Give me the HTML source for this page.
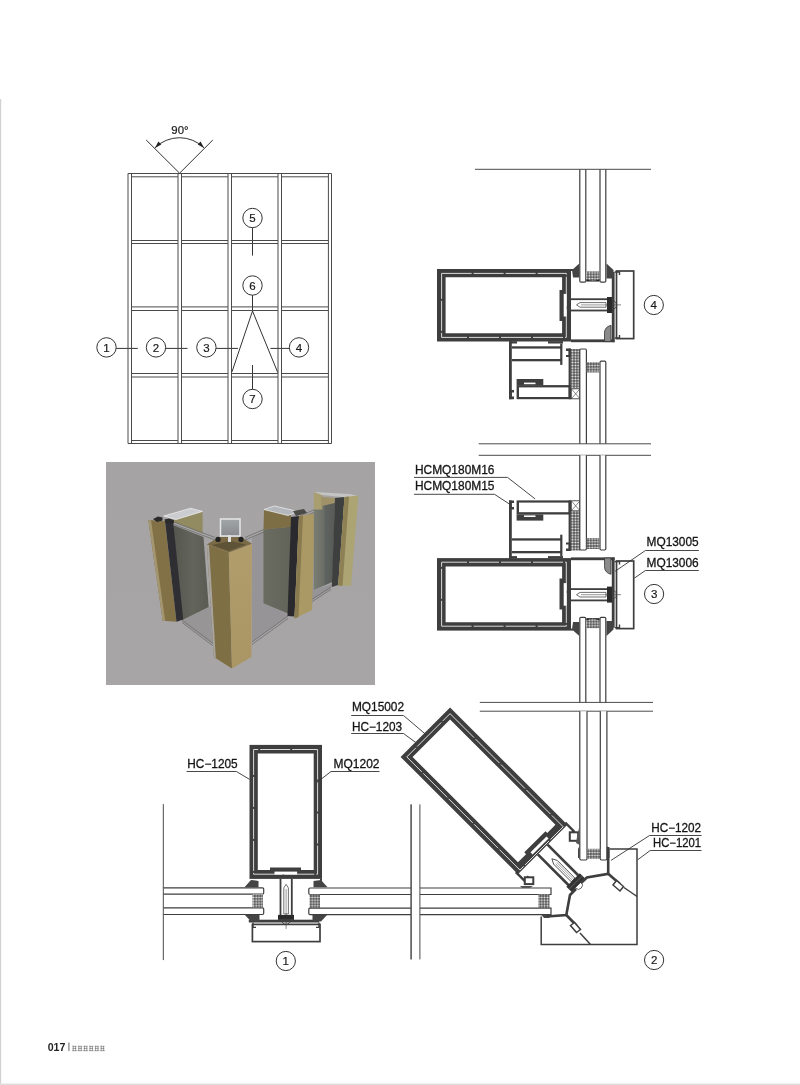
<!DOCTYPE html>
<html><head><meta charset="utf-8">
<style>
html,body{margin:0;padding:0;background:#fff;}
body{width:800px;height:1085px;overflow:hidden;position:relative;font-family:"Liberation Sans",sans-serif;}
svg{position:absolute;left:0;top:0;}
text{filter:grayscale(1);}
</style></head><body>
<svg width="800" height="1085" viewBox="0 0 800 1085" font-family="Liberation Sans, sans-serif">
<!-- page borders -->
<rect x="0" y="99" width="1.2" height="986" fill="#d2d2d2"/>
<rect x="0" y="1083.5" width="800" height="1.5" fill="#dedede"/>
<!-- angle -->
<g stroke="#333" stroke-width="1" fill="none">
<line x1="146.2" y1="140" x2="179.6" y2="173.2"/>
<line x1="212.8" y1="140" x2="179.6" y2="173.2"/>
<path d="M154.9 147.9 A34.8 34.8 0 0 1 204.1 147.9"/>
</g>
<polygon points="154.9,147.9 161.3,144.4 158.4,141.5" fill="#222"/>
<polygon points="204.1,147.9 200.6,141.5 197.7,144.4" fill="#222"/>
<text x="171.3" y="133.7" font-size="11.4" fill="#1a1a1a" stroke="#1a1a1a" stroke-width="0.2">90°</text>
<!-- callouts grid -->
<g stroke="#333" stroke-width="1" fill="#fff">
<circle cx="106.5" cy="347.4" r="9.7"/>
<circle cx="156" cy="347.4" r="9.7"/>
<circle cx="206.4" cy="347.4" r="9.7"/>
<circle cx="299" cy="347.4" r="9.7"/>
<circle cx="252.5" cy="218" r="9.7"/>
<circle cx="252.5" cy="285.5" r="9.7"/>
<circle cx="252.5" cy="399" r="9.7"/>
</g>
<g stroke="#333" stroke-width="1" fill="none">
<line x1="116.2" y1="348.4" x2="137.8" y2="348.4"/>
<line x1="165.8" y1="348.4" x2="187.5" y2="348.4"/>
<line x1="216.1" y1="348.4" x2="238" y2="348.4"/>
<line x1="270.4" y1="348.4" x2="289.3" y2="348.4"/>
<line x1="252.5" y1="227.7" x2="252.5" y2="255.6"/>
<line x1="252.5" y1="295.2" x2="252.5" y2="311.5"/>
<line x1="252.5" y1="365" x2="252.5" y2="389.3"/>
<path d="M232 371.8 L252.5 311 L277.8 372.6"/>
</g>
<g font-size="11.5" fill="#1a1a1a" stroke="#1a1a1a" stroke-width="0.2" text-anchor="middle">
<text x="106.5" y="351.6">1</text>
<text x="156" y="351.6">2</text>
<text x="206.4" y="351.6">3</text>
<text x="299" y="351.6">4</text>
<text x="252.5" y="222.2">5</text>
<text x="252.5" y="289.7">6</text>
<text x="252.5" y="403.2">7</text>
</g>

<g id="grid" stroke="#4a4a4a" stroke-width="1" fill="none">
<line x1="128" y1="173.5" x2="128" y2="443.5"/><line x1="131.5" y1="173.5" x2="131.5" y2="443.5"/>
<line x1="178" y1="173.5" x2="178" y2="443.5"/><line x1="181.5" y1="173.5" x2="181.5" y2="443.5"/>
<line x1="228" y1="173.5" x2="228" y2="443.5"/><line x1="231.5" y1="173.5" x2="231.5" y2="443.5"/>
<line x1="278" y1="173.5" x2="278" y2="443.5"/><line x1="281.5" y1="173.5" x2="281.5" y2="443.5"/>
<line x1="328.4" y1="173.5" x2="328.4" y2="443.5"/><line x1="331.5" y1="173.5" x2="331.5" y2="443.5"/>
<line x1="128" y1="173.5" x2="331.5" y2="173.5"/><line x1="128" y1="443.5" x2="331.5" y2="443.5"/>
<line x1="131.5" y1="176.8" x2="178" y2="176.8"/>
<line x1="181.5" y1="176.8" x2="228" y2="176.8"/>
<line x1="231.5" y1="176.8" x2="278" y2="176.8"/>
<line x1="281.5" y1="176.8" x2="328.4" y2="176.8"/>
<line x1="131.5" y1="240.5" x2="178" y2="240.5"/>
<line x1="131.5" y1="243.5" x2="178" y2="243.5"/>
<line x1="181.5" y1="240.5" x2="228" y2="240.5"/>
<line x1="181.5" y1="243.5" x2="228" y2="243.5"/>
<line x1="231.5" y1="240.5" x2="278" y2="240.5"/>
<line x1="231.5" y1="243.5" x2="278" y2="243.5"/>
<line x1="281.5" y1="240.5" x2="328.4" y2="240.5"/>
<line x1="281.5" y1="243.5" x2="328.4" y2="243.5"/>
<line x1="131.5" y1="306.9" x2="178" y2="306.9"/>
<line x1="131.5" y1="310.5" x2="178" y2="310.5"/>
<line x1="181.5" y1="306.9" x2="228" y2="306.9"/>
<line x1="181.5" y1="310.5" x2="228" y2="310.5"/>
<line x1="231.5" y1="306.9" x2="278" y2="306.9"/>
<line x1="231.5" y1="310.5" x2="278" y2="310.5"/>
<line x1="281.5" y1="306.9" x2="328.4" y2="306.9"/>
<line x1="281.5" y1="310.5" x2="328.4" y2="310.5"/>
<line x1="131.5" y1="373.5" x2="178" y2="373.5"/>
<line x1="131.5" y1="377" x2="178" y2="377"/>
<line x1="181.5" y1="373.5" x2="228" y2="373.5"/>
<line x1="181.5" y1="377" x2="228" y2="377"/>
<line x1="231.5" y1="373.5" x2="278" y2="373.5"/>
<line x1="231.5" y1="377" x2="278" y2="377"/>
<line x1="281.5" y1="373.5" x2="328.4" y2="373.5"/>
<line x1="281.5" y1="377" x2="328.4" y2="377"/>
<line x1="131.5" y1="440.5" x2="178" y2="440.5"/>
<line x1="181.5" y1="440.5" x2="228" y2="440.5"/>
<line x1="231.5" y1="440.5" x2="278" y2="440.5"/>
<line x1="281.5" y1="440.5" x2="328.4" y2="440.5"/>
</g>
<g id="photo">
<defs>
<linearGradient id="bgg" x1="0" y1="0" x2="0" y2="1"><stop offset="0" stop-color="#a5a3a4"/><stop offset="1" stop-color="#a7a5a6"/></linearGradient>
<linearGradient id="glassL" x1="0" y1="0" x2="1" y2="0"><stop offset="0" stop-color="#55574f"/><stop offset="0.55" stop-color="#63655c"/><stop offset="1" stop-color="#5a5c53"/></linearGradient>
<linearGradient id="glassM" x1="0" y1="0" x2="1" y2="0"><stop offset="0" stop-color="#6a6c62"/><stop offset="1" stop-color="#62645a"/></linearGradient>
<linearGradient id="glassR" x1="0" y1="0" x2="1" y2="0"><stop offset="0" stop-color="#7a7d74"/><stop offset="0.45" stop-color="#6c6f66"/><stop offset="0.55" stop-color="#5e6360"/><stop offset="1" stop-color="#575b58"/></linearGradient>
<linearGradient id="ccR" x1="0" y1="0" x2="0" y2="1"><stop offset="0" stop-color="#b19d6b"/><stop offset="1" stop-color="#a99664"/></linearGradient>
<linearGradient id="silv" x1="0" y1="0" x2="0" y2="1"><stop offset="0" stop-color="#a2a6a9"/><stop offset="1" stop-color="#878b8d"/></linearGradient>
</defs>
<rect x="106" y="462" width="269" height="223" fill="url(#bgg)"/>
<!-- see-through floor areas -->
<polygon points="182,620.5 208.7,606.9 211,607 213.8,645 181.3,621.3" fill="#979596"/>
<polygon points="252,538 263.4,531 263.4,603.3 289,614.5 287.5,617 252,642" fill="#969496"/>
<polygon points="306.5,518 313.8,512 313.8,590 332,584 331,588.5 306.5,604" fill="#969496"/>
<!-- LC glass pane -->
<polygon points="173,525 203.5,537 208.7,606.9 182.5,620" fill="url(#glassL)"/>
<!-- LC back gold -->
<polygon points="174,519.5 202.5,511.4 202.7,533.5 173,522" fill="#928a60"/>
<polygon points="163.8,516 190.5,508.3 202.5,511.4 176,519.5" fill="#cbcccf" stroke="#ececec" stroke-width="0.8"/>
<!-- LC left gold face -->
<polygon points="148.3,520 164.9,521 176.5,621.8 162.7,620.7" fill="#827147"/>
<polygon points="148.3,520 151,520.2 165.2,620.9 162.7,620.7" fill="#a49670"/>
<!-- LC dark strip -->
<polygon points="164.9,520 173.2,522 183.2,619.6 176.5,621.8" fill="#2e2e33"/>
<path d="M153 519 L158 516.6 L162.5 517.5 L162.5 520.5 L157 522 Z" fill="#2a2a2a"/><path d="M164.3 519.5 L169 518.4 L173.9 520 L173.9 523.6 L166 523.2 Z" fill="#2a2a2a"/>
<!-- glass edge lines -->
<g stroke="#6e6e6e" stroke-width="0.8" fill="none">
<line x1="174" y1="522" x2="215" y2="537.5"/><line x1="174" y1="524.5" x2="215" y2="540"/>
<line x1="245" y1="537.5" x2="292" y2="517.5"/><line x1="245" y1="540" x2="292" y2="520"/>
<line x1="300" y1="516" x2="334" y2="501"/><line x1="300" y1="518.5" x2="334" y2="503.5"/>
<line x1="182" y1="620" x2="214" y2="644"/><line x1="182" y1="622.5" x2="214" y2="646.5"/>
<line x1="252" y1="642" x2="288" y2="616"/><line x1="252" y1="644.5" x2="288" y2="618.5"/>
<line x1="306.5" y1="602.8" x2="331" y2="587"/><line x1="306.5" y1="605.3" x2="331" y2="589.5"/>
</g>
<!-- MC glass pane -->
<polygon points="263.4,529.5 291,526.5 289,614 263.4,603.3" fill="url(#glassM)"/>
<polygon points="264,510 291,514.5 291,527 263.5,529.5" fill="#7d6e45"/>
<polygon points="264,509.5 274.5,506 298,511.5 288,515.5" fill="#b4b8bc" stroke="#e8e8e8" stroke-width="0.8"/>
<polygon points="291,517 299,516 294.5,616.5 287.5,616" fill="#2a2a2e"/>
<polygon points="293,511 304,509 307,513 296,516" fill="#4a4a46"/>
<polygon points="299,516 315,513.5 312,610 294.5,618.5" fill="#ab9965"/>
<polygon points="299,516 303,515.5 298.5,617 294.5,618.5" fill="#8a7a50"/>
<!-- FRC -->
<polygon points="313.8,508.3 335,502 332.5,582 313.8,590" fill="url(#glassR)"/>
<polygon points="313.8,492.4 322.3,494 322.3,509.4 313.8,509.4" fill="#a89e70"/>
<polygon points="321.2,496.7 335,498 335,503 321.2,506.2" fill="#9f9168"/>
<polygon points="314,492 350,494 358,496 347,497.5 322,495" fill="#c4c4c4"/>
<polygon points="335,498 344.5,497 338.2,585 331.8,587" fill="#3e403f"/>
<polygon points="344.5,497 358.5,495.5 351,585.8 338.2,585.8" fill="#ada474"/>
<polygon points="344.5,497 349,496.6 342.5,585.8 338.2,585.8" fill="#8c8054"/>
<!-- CC -->
<polygon points="206.9,544.4 228.8,552.5 232,668.4 213.8,657" fill="#7f6f45"/>
<polygon points="206.9,544.4 209,545 215.8,658 213.8,657" fill="#a8a4a0"/>
<polygon points="228.8,552.5 251.9,543.8 251.4,657 232,668.4" fill="url(#ccR)"/>
<polygon points="206.9,544.4 219,537 241,537 251.9,543.8 228.8,552.5" fill="#7a6a45"/>
<polygon points="212,545 228.8,551 246,544.5 230,541" fill="#5e5237"/>
<rect x="220.5" y="519" width="19.5" height="17" fill="url(#silv)" stroke="#e6e6e6" stroke-width="1.5"/>
<circle cx="218" cy="539.4" r="2.6" fill="#222"/><circle cx="241" cy="539.4" r="2.6" fill="#222"/>
<rect x="228" y="535" width="3" height="7" fill="#ddd"/>

</g>
<g id="drawings">
<defs>
<pattern id="dots" x="0" y="0" width="2.8" height="2.8" patternUnits="userSpaceOnUse">
<rect width="2.8" height="2.8" fill="#505050"/><circle cx="1.4" cy="1.4" r="1.0" fill="#f4f4f4"/>
</pattern>
<g id="core4">
<rect x="437" y="269" width="134" height="72.5" fill="#3e3e3e"/>
<polygon points="445.6,277.3 562.1,277.3 562.1,290 559.5,290 559.5,321 562.1,321 562.1,333.2 445.6,333.2" fill="#fff"/>
<rect x="441.6" y="273.4" width="124.7" height="64" fill="none" stroke="#ececec" stroke-width="0.9" stroke-dasharray="30 2"/>
<rect x="563.7" y="293.9" width="2.9" height="22.6" fill="#fff"/>
<rect x="571" y="269" width="2" height="2" fill="#3e3e3e"/>
<rect x="571" y="298.3" width="37" height="1.8" fill="#3e3e3e"/>
<rect x="571" y="309.6" width="37" height="1.8" fill="#3e3e3e"/>
<path d="M576.5 304.9 L580 302.6 L606 302.6 L606 307.2 L580 307.2 Z" fill="#fff" stroke="#333" stroke-width="0.7"/>
<line x1="581" y1="304.9" x2="606" y2="304.9" stroke="#333" stroke-width="0.5"/>
<rect x="607" y="297" width="5" height="16" fill="#2a2a2a"/>
<path d="M612 300.5 A4.5 4.5 0 0 1 612 309.5" fill="#fff" stroke="#333" stroke-width="0.8"/>
<line x1="606" y1="304.9" x2="621" y2="304.9" stroke="#333" stroke-width="0.6"/>
<rect x="611.8" y="272" width="2.8" height="70.2" fill="#3e3e3e"/>
<rect x="616.5" y="271" width="17.2" height="67.6" fill="none" stroke="#3e3e3e" stroke-width="1.7"/>
<path d="M614.6 272 L619.5 272 L619.5 275" fill="none" stroke="#3e3e3e" stroke-width="1.4"/>
<path d="M614.6 338 L619.5 338 L619.5 335" fill="none" stroke="#3e3e3e" stroke-width="1.4"/>
</g>
<g id="mwall4"><rect x="571" y="339.4" width="43.6" height="2.8" fill="#3e3e3e"/></g>
<g id="gask4">
<path d="M572 270 L579.3 263.5 L579.3 277.5 L573 277.5 Z" fill="#444"/>
<path d="M606.5 263.5 L613.5 270 L613.5 278.5 L606.5 278.5 Z" fill="#444"/>
</g>
<g id="trans4">
<rect x="509" y="341.2" width="2.8" height="58" fill="#3e3e3e"/>
<path d="M509 390 L514 390 L514 392.5 L511.8 392.5 L511.8 396.5 L514 396.5 L514 399.2 L509 399.2 Z" fill="#3e3e3e"/>
<rect x="509" y="341.2" width="8" height="2.3" fill="#3e3e3e"/>
<rect x="548" y="341.2" width="15" height="2.3" fill="#3e3e3e"/>
<rect x="511.8" y="346.3" width="49.5" height="2.3" fill="#3e3e3e"/>
<rect x="511.8" y="359" width="49.5" height="2.3" fill="#3e3e3e"/>
<rect x="560.2" y="343.5" width="2.2" height="21.4" fill="#3e3e3e"/>
<rect x="516.6" y="385.1" width="54.3" height="14.1" fill="#3e3e3e"/>
<rect x="519" y="387.4" width="49.6" height="9.6" fill="#fff"/>
<rect x="516.6" y="379" width="26.7" height="6.2" fill="#3e3e3e"/>
<rect x="524" y="382.6" width="11.5" height="1.6" fill="#fff"/>
<rect x="568.6" y="348.6" width="2.3" height="50.6" fill="#3e3e3e"/>
<path d="M571 348.6 L566 348.6 L566 351 L568.6 351 L568.6 355 L566 355 L566 357 L571 357 Z" fill="#3e3e3e"/>
<rect x="570.9" y="349" width="9.5" height="39.5" fill="url(#dots)"/>
<rect x="571.3" y="388.8" width="8.8" height="10" fill="#fff" stroke="#3e3e3e" stroke-width="0.9"/>
<path d="M571.3 388.8 L580.1 398.8 M580.1 388.8 L571.3 398.8" stroke="#3e3e3e" stroke-width="0.6"/>
<path d="M611 325.3 Q604 327 604.5 334 L604.5 341.6 L611 341.6 Z" fill="#8a8a8a" stroke="#333" stroke-width="0.8"/>
</g>
</defs>

<!-- ===== SECTION 4 ===== -->
<use href="#core4"/>
<use href="#mwall4"/>
<use href="#gask4"/>
<use href="#trans4"/>
<g stroke="#3e3e3e" stroke-width="1.2" fill="#fff">
<path d="M579.8 169.3 V281 Q579.8 282.2 581 282.2 H584.6 Q585.8 282.2 585.8 281 V169.3"/>
<path d="M600 169.3 V281 Q600 282.2 601.2 282.2 H604.6 Q605.8 282.2 605.8 281 V169.3"/>
<path d="M579.8 443.8 V350.2 Q579.8 349 581 349 H585.2 Q586.4 349 586.4 350.2 V443.8"/>
<path d="M600 443.8 V362.4 Q600 361.2 601.2 361.2 H604.6 Q605.8 361.2 605.8 362.4 V443.8"/>
</g>
<rect x="586.4" y="271.4" width="13" height="9.8" fill="url(#dots)"/><path d="M586.4 279.2 Q593 282.6 599.4 279.2 V281.4 H586.4 Z" fill="#222"/>
<rect x="586.8" y="362" width="12.6" height="10.5" fill="url(#dots)"/>
<g stroke="#4a4a4a" stroke-width="1">
<line x1="475" y1="169.3" x2="651" y2="169.3"/>
<line x1="478.7" y1="443.8" x2="651" y2="443.8"/>
<line x1="478.7" y1="455.3" x2="651" y2="455.3"/>
</g>
<circle cx="653.8" cy="305" r="9.6" fill="#fff" stroke="#333" stroke-width="1"/>
<text x="653.8" y="309.2" font-size="11.5" text-anchor="middle" fill="#1a1a1a" stroke="#1a1a1a" stroke-width="0.2">4</text>

<!-- ===== SECTION 3 ===== -->
<g transform="matrix(1,0,0,-1,0,899.6)">
<use href="#core4"/>
<use href="#mwall4"/>
<use href="#gask4"/>
<use href="#trans4"/>
</g>
<g stroke="#3e3e3e" stroke-width="1.2" fill="#fff">
<path d="M579.8 455.3 V548.8 Q579.8 550 581 550 H585.2 Q586.4 550 586.4 548.8 V455.3"/>
<path d="M600 455.3 V548.8 Q600 550 601.2 550 H604.6 Q605.8 550 605.8 548.8 V455.3"/>
<path d="M579.8 702.4 V618.6 Q579.8 617.4 581 617.4 H584.6 Q585.8 617.4 585.8 618.6 V702.4"/>
<path d="M600 702.4 V618.6 Q600 617.4 601.2 617.4 H604.6 Q605.8 617.4 605.8 618.6 V702.4"/>
</g>
<rect x="586.8" y="538" width="12.6" height="11" fill="url(#dots)"/>
<rect x="586.4" y="618.4" width="13" height="9.8" fill="url(#dots)"/><path d="M586.4 620.4 Q593 617 599.4 620.4 V618.2 H586.4 Z" fill="#222"/>
<circle cx="654.1" cy="594" r="9.6" fill="#fff" stroke="#333" stroke-width="1"/>
<text x="654.1" y="598.2" font-size="11.5" text-anchor="middle" fill="#1a1a1a" stroke="#1a1a1a" stroke-width="0.2">3</text>
<g stroke="#4a4a4a" stroke-width="1">
<line x1="479.8" y1="702.4" x2="653" y2="702.4"/>
<line x1="479.8" y1="711.2" x2="653" y2="711.2"/>
</g>

<!-- ===== SECTION 1 ===== -->
<g transform="matrix(0,1,-1,0,591,307.9)">
<use href="#core4"/>
</g>
<use href="#gask4" transform="matrix(0,1,-1,0,591,307.9)"/>
<use href="#gask4" transform="matrix(0,1,1,0,-19,307.9)"/>
<g stroke="#3e3e3e" stroke-width="1.2" fill="#fff">
<path d="M163.3 887.9 H262.5 Q263.7 887.9 263.7 889.1 V893 Q263.7 894.2 262.5 894.2 H163.3"/>
<path d="M163.3 907.9 H262.5 Q263.7 907.9 263.7 909.1 V913.3 Q263.7 914.5 262.5 914.5 H163.3"/>
<path d="M411.1 888 H310 Q308.8 888 308.8 889.2 V893.3 Q308.8 894.5 310 894.5 H411.1"/>
<path d="M411.1 908.1 H310 Q308.8 908.1 308.8 909.3 V913.4 Q308.8 914.6 310 914.6 H411.1"/>
<path d="M419.9 888 H551 V894.5 H419.9"/>
<path d="M419.9 908.1 H551 V914.6 H419.9"/>
</g>
<rect x="252.5" y="894.3" width="10.5" height="13.5" fill="url(#dots)"/>
<rect x="309.5" y="894.6" width="10.5" height="13.4" fill="url(#dots)"/>
<g stroke="#4a4a4a" stroke-width="1">
<line x1="163.3" y1="804.1" x2="163.3" y2="960.1"/>
<line x1="411.1" y1="804.4" x2="411.1" y2="959.4"/>
<line x1="419.9" y1="804.4" x2="419.9" y2="959.4"/>
</g>
<circle cx="285.8" cy="961" r="9.6" fill="#fff" stroke="#333" stroke-width="1"/>
<text x="285.8" y="965.2" font-size="11.5" text-anchor="middle" fill="#1a1a1a" stroke="#1a1a1a" stroke-width="0.2">1</text>

<!-- ===== SECTION 2 ===== -->
<g transform="translate(484,790.85) rotate(45)">
<rect x="-83" y="-35" width="166" height="70" fill="#3e3e3e"/>
<polygon points="-74.5,-26.5 74.5,-26.5 74.5,-15 72,-15 72,15 74.5,15 74.5,26.5 -74.5,26.5" fill="#fff"/>
<rect x="-78.6" y="-30.6" width="160" height="61.2" fill="none" stroke="#ececec" stroke-width="0.9" stroke-dasharray="34 2"/>
<rect x="76.4" y="-12" width="2.9" height="22.6" fill="#fff"/>
<rect x="83" y="-8.2" width="50" height="2.6" fill="#3e3e3e"/>
<rect x="83" y="5.6" width="50" height="2.6" fill="#3e3e3e"/>
<path d="M96 0 L101 -2.6 L126 -2.6 L126 2.6 L101 2.6 Z" fill="#fff" stroke="#333" stroke-width="0.8"/>
<line x1="102" y1="-0.9" x2="126" y2="-0.9" stroke="#444" stroke-width="0.5"/><line x1="102" y1="0.9" x2="126" y2="0.9" stroke="#444" stroke-width="0.5"/>
<rect x="126" y="-9.5" width="7.5" height="19" fill="#333"/><line x1="129.7" y1="-9.5" x2="129.7" y2="9.5" stroke="#777" stroke-width="0.6"/><path d="M133.5 -4 A4 4 0 0 1 133.5 4" fill="#fff" stroke="#333" stroke-width="0.7"/>
<path d="M80 -35 L92 -35 L92 -29" fill="none" stroke="#3e3e3e" stroke-width="2.4"/>
<path d="M80 35 L92 35 L92 29" fill="none" stroke="#3e3e3e" stroke-width="2.4"/>
</g>
<!-- small blocks -->
<rect x="569.8" y="832.3" width="8.4" height="8.5" fill="#fff" stroke="#3e3e3e" stroke-width="2"/>
<rect x="524.8" y="877.3" width="8.5" height="6.8" fill="#fff" stroke="#3e3e3e" stroke-width="2"/>
<path d="M578.5 828 L579.7 845 L576 843 Z" fill="#555"/>
<path d="M520 886 L533 886 L530 888 L522 888 Z" fill="#555"/>
<!-- upper glass -->
<g stroke="#3e3e3e" stroke-width="1.2" fill="#fff">
<path d="M579.8 711.2 V858.8 Q579.8 860 581 860 H585.8 Q587 860 587 858.8 V711.2"/>
<path d="M600.3 711.2 V858.8 Q600.3 860 601.5 860 H605.7 Q606.9 860 606.9 858.8 V711.2"/>
</g>
<rect x="587.2" y="848.8" width="13" height="10.2" fill="url(#dots)"/>
<path d="M606.9 846 L609.5 849 L609.5 858 L606.9 858 Z" fill="#444"/>
<path d="M579.5 846 L578 849 L578 858 L579.5 858 Z" fill="#444"/>
<rect x="538.4" y="894.5" width="11.2" height="13.6" fill="url(#dots)"/>
<path d="M541 914.6 L551 914.6 L549 918 L544 918 Z" fill="#444"/>
<!-- corner profile -->
<g fill="none" stroke="#3e3e3e" stroke-width="2.6" stroke-linejoin="miter">
<path d="M608.2 847 L608.2 873.8 L586.9 877.5 L581 883"/>
<path d="M576 889 L570 895 L566.3 915 L547 916.5"/>
<path d="M608.2 873.8 L620 884"/>
<path d="M566.3 915 L576.5 925.5"/>
</g>
<g fill="#fff" stroke="#3e3e3e" stroke-width="1.5">
<polygon points="616.5,880.5 623.5,886.5 620,891 613,885"/>
<polygon points="574.5,922.5 580.5,929.5 576.5,932.5 570.5,925.5"/>
</g>
<!-- cover -->
<g fill="none" stroke="#3e3e3e" stroke-width="1.5">
<path d="M609.5 849.1 H637 V944.4 H541.2 V916.5"/>
<line x1="624" y1="887.5" x2="637" y2="896.5"/>
<line x1="580" y1="933" x2="590.5" y2="944.4"/>
</g>
<g stroke="#4a4a4a" stroke-width="1">
<line x1="411.1" y1="804.4" x2="411.1" y2="959.4"/>
</g>
<circle cx="654.1" cy="960" r="9.6" fill="#fff" stroke="#333" stroke-width="1"/>
<text x="654.1" y="964.2" font-size="11.5" text-anchor="middle" fill="#1a1a1a" stroke="#1a1a1a" stroke-width="0.2">2</text>

<!-- ===== LABELS ===== -->
<g font-size="12" fill="#151515" stroke="#151515" stroke-width="0.3">
<text x="414.9" y="473.6" textLength="79.6" lengthAdjust="spacingAndGlyphs">HCMQ180M16</text>
<text x="414.9" y="490" textLength="79.6" lengthAdjust="spacingAndGlyphs">HCMQ180M15</text>
<text x="646.5" y="546.1" textLength="52.2" lengthAdjust="spacingAndGlyphs">MQ13005</text>
<text x="646.5" y="567.1" textLength="52.2" lengthAdjust="spacingAndGlyphs">MQ13006</text>
<text x="187.3" y="768.4" textLength="50.4" lengthAdjust="spacingAndGlyphs">HC−1205</text>
<text x="333.5" y="768.4" textLength="46" lengthAdjust="spacingAndGlyphs">MQ1202</text>
<text x="351.9" y="711.2" textLength="52.2" lengthAdjust="spacingAndGlyphs">MQ15002</text>
<text x="351.9" y="731" textLength="50.2" lengthAdjust="spacingAndGlyphs">HC−1203</text>
<text x="651.2" y="831.8" textLength="49.9" lengthAdjust="spacingAndGlyphs">HC−1202</text>
<text x="653" y="846.9" textLength="48" lengthAdjust="spacingAndGlyphs">HC−1201</text>
</g>
<g fill="none" stroke="#333" stroke-width="0.9">
<path d="M414 477.4 H507.5 L535.1 498.9"/>
<path d="M414 494.3 H494.5 L509.1 503.8"/>
<path d="M698.8 550.5 H645.4 L615.1 571.3"/>
<path d="M698.8 570.5 H645.4 L634.4 578.1"/>
<path d="M186.6 771.5 H236.4 L249.6 779.4"/>
<path d="M379.5 771.5 H331 L316.5 782.8"/>
<path d="M351.2 715.5 H403.5 L425.5 734.2"/>
<path d="M351.2 733.5 H403.5 L415.8 742.5"/>
<path d="M701.5 835.5 H649.5 L611 860.4"/>
<path d="M701.5 850.5 H650.2 L637.8 859.7"/>
</g>

</g>
<text x="47.7" y="1050.8" font-size="10.6" font-weight="bold" fill="#222">017</text>
<rect x="68.1" y="1042.5" width="1.5" height="8.5" fill="#999"/>
<g stroke="#5a5a5a" stroke-width="0.55" fill="none">
<path d="M72.3 1046.3 H76.5 M72.5 1048.3999999999999 H76.3 M72 1050.7 H76.8 M73.2 1045.8 V1051.0 M75.6 1046.1 V1051.0"/>
<path d="M77.89999999999999 1046.3 H82.1 M78.1 1048.3999999999999 H81.89999999999999 M77.6 1050.7 H82.39999999999999 M78.8 1045.8 V1051.0 M81.19999999999999 1046.1 V1051.0"/>
<path d="M83.5 1046.3 H87.7 M83.7 1048.3999999999999 H87.5 M83.2 1050.7 H88.0 M84.4 1045.8 V1051.0 M86.8 1046.1 V1051.0"/>
<path d="M89.1 1046.3 H93.3 M89.3 1048.3999999999999 H93.1 M88.8 1050.7 H93.6 M90.0 1045.8 V1051.0 M92.39999999999999 1046.1 V1051.0"/>
<path d="M94.7 1046.3 H98.9 M94.9 1048.3999999999999 H98.7 M94.4 1050.7 H99.2 M95.60000000000001 1045.8 V1051.0 M98.0 1046.1 V1051.0"/>
<path d="M100.3 1046.3 H104.5 M100.5 1048.3999999999999 H104.3 M100 1050.7 H104.8 M101.2 1045.8 V1051.0 M103.6 1046.1 V1051.0"/>
</g>

</svg>
</body></html>
